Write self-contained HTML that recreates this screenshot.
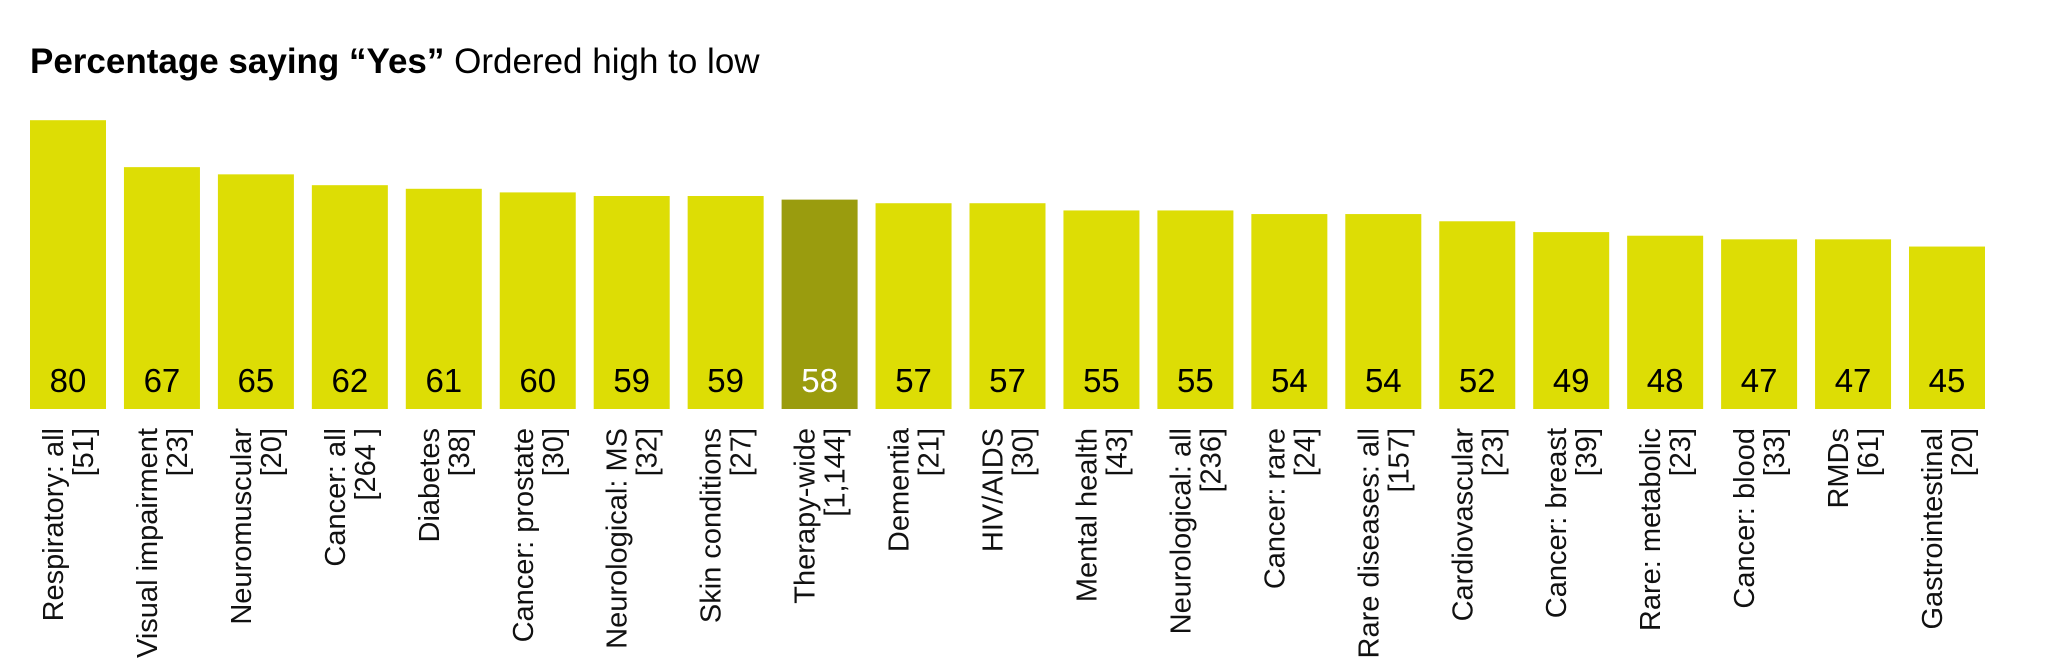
<!DOCTYPE html>
<html><head><meta charset="utf-8"><style>
html,body{margin:0;padding:0;background:#fff;}
svg{display:block;font-family:"Liberation Sans",Arial,sans-serif;}
</style></head><body>
<svg width="2048" height="669" viewBox="0 0 2048 669">
<text x="30" y="73" font-size="35" fill="#000"><tspan font-weight="bold">Percentage saying “Yes”</tspan> <tspan>Ordered high to low</tspan></text>
<g id="bars"></g>
</svg>
<script>
const categories=["Respiratory: all","Visual impairment","Neuromuscular","Cancer: all","Diabetes","Cancer: prostate","Neurological: MS","Skin conditions","Therapy-wide","Dementia","HIV/AIDS","Mental health","Neurological: all","Cancer: rare","Rare diseases: all","Cardiovascular","Cancer: breast","Rare: metabolic","Cancer: blood","RMDs","Gastrointestinal"];
const sampleSizes=["[51]","[23]","[20]","[264 ]","[38]","[30]","[32]","[27]","[1,144]","[21]","[30]","[43]","[236]","[24]","[157]","[23]","[39]","[23]","[33]","[61]","[20]"];
const values=[80,67,65,62,61,60,59,59,58,57,57,55,55,54,54,52,49,48,47,47,45];
const highlightIndex=8;

const NS="http://www.w3.org/2000/svg";
const baseY=409, pxPerUnit=3.61, x0=30, pitch=93.95, barW=76;
function xScale(i){return x0+i*pitch;}
function yScale(v){return baseY-v*pxPerUnit;}
const g=document.getElementById('bars');
values.forEach((v,i)=>{
  const x=xScale(i), cx=x+barW/2;
  const r=document.createElementNS(NS,'rect');
  r.setAttribute('x',x);r.setAttribute('y',yScale(v));
  r.setAttribute('width',barW);r.setAttribute('height',baseY-yScale(v));
  r.setAttribute('fill',i===highlightIndex?'#9a9c0e':'#dddd05');
  
  
  g.appendChild(r);
  const t=document.createElementNS(NS,'text');
  t.setAttribute('x',cx);t.setAttribute('y',baseY-17);
  t.setAttribute('text-anchor','middle');t.setAttribute('font-size','33');
  t.setAttribute('fill',i===highlightIndex?'#fff':'#000');
  t.textContent=v;
  
  
  g.appendChild(t);
  const l1=document.createElementNS(NS,'text');
  l1.setAttribute('transform','translate('+(cx-5)+',428) rotate(-90)');
  l1.setAttribute('text-anchor','end');l1.setAttribute('font-size','29');l1.setAttribute('fill','#111');
  l1.textContent=categories[i];
  
  
  g.appendChild(l1);
  const l2=document.createElementNS(NS,'text');
  l2.setAttribute('transform','translate('+(cx+25)+',428) rotate(-90)');
  l2.setAttribute('text-anchor','end');l2.setAttribute('font-size','29');l2.setAttribute('fill','#111');
  l2.textContent=sampleSizes[i];
  
  
  g.appendChild(l2);
});
</script>
</body></html>
